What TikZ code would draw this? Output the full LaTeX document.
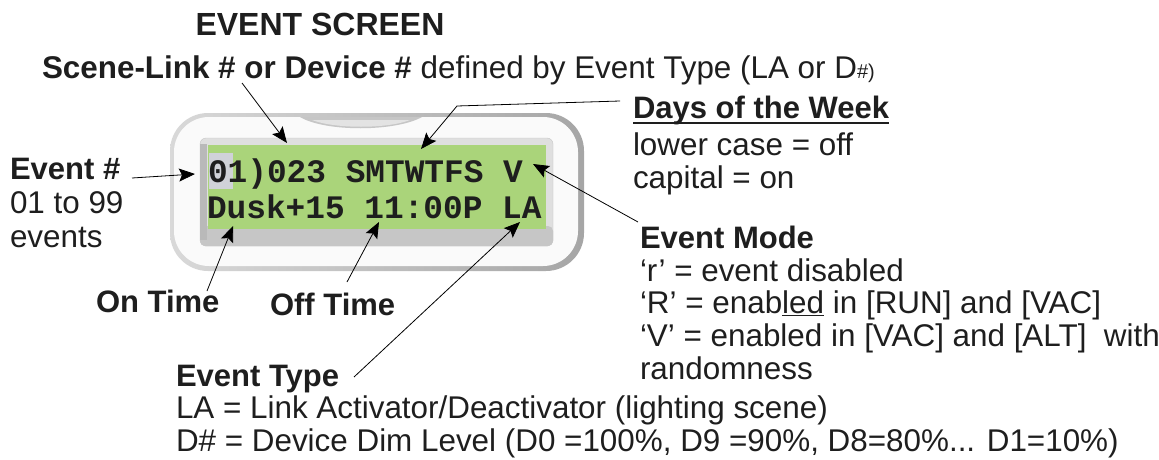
\documentclass[tikz,border=0pt]{standalone}
\usepackage{fontspec}
\setmainfont{Liberation Sans}
\newfontfamily\lcdfont{Liberation Mono}
\usetikzlibrary{arrows.meta}
\definecolor{lcdgreen}{RGB}{170,212,122}
\definecolor{hilite}{RGB}{208,210,216}
\definecolor{inkc}{RGB}{30,30,30}
\begin{document}
\begin{tikzpicture}[x=1pt,y=-1pt,
  every node/.style={inner sep=0pt,outer sep=0pt},
  txt/.style={anchor=base west,font=\fontsize{31.4}{33}\selectfont,text=inkc},
  btxt/.style={anchor=base west,font=\fontsize{31}{33}\selectfont\bfseries,text=inkc},
  lcd/.style={anchor=base west,font=\fontsize{32.8}{34}\selectfont\lcdfont\bfseries,text=inkc},
  arr/.style={line width=0.8pt,-{Stealth[length=16pt,width=13pt,inset=3pt]}}]
\useasboundingbox (0,0) rectangle (1159,460);
% device shell
\shade[left color=gray!30,right color=gray!70,rounded corners=38] (170,113) rectangle (584,271);
\fill[gray!4,rounded corners=35] (174,117) rectangle (578,266);
\fill[gray!45] (300,117) .. controls (325,132) and (395,132) .. (422,117) -- cycle;
\fill[gray!22] (312,120) .. controls (335,129) and (387,129) .. (410,120) -- cycle;
% bezel
\filldraw[fill=gray!25,draw=gray!45,rounded corners=6] (200,138) rectangle (553,246);
\fill[gray!45,rounded corners=5] (200,226) rectangle (553,246);
\fill[gray!55] (200,144) rectangle (207,240);
\fill[lcdgreen] (208,145) rectangle (546,229);
\fill[hilite] (209,153) rectangle (233,189);
\node[lcd] (l1) at (208,182) {01)023 SMTWTFS V};
\node[lcd] (l2) at (207,218) {Dusk+15 11:00P LA};
% texts
\node[anchor=base,font=\fontsize{32}{34}\selectfont\bfseries,text=inkc] (title) at (320,36) {EVENT SCREEN};
\node[txt] (scene) at (42,78) {\textbf{Scene-Link \# or Device \#} defined by Event Type (LA or D{\fontsize{20}{22}\selectfont\#)}};
\node[btxt] (days) at (633,118) {Days of the Week};
\draw[line width=1.6pt,inkc] ([yshift=-5pt]days.base west) -- ([yshift=-5pt]days.base east);
\node[txt] (lower) at (633,155) {lower case = off};
\node[txt] (capital) at (633,188) {capital = on};
\node[btxt] (evnum) at (10,179) {Event \#};
\node[txt] (range) at (10,213) {01 to 99};
\node[txt] (events) at (10,247) {events};
\node[btxt] (ontime) at (96,312) {On Time};
\node[btxt] (offtime) at (270,315) {Off Time};
\node[btxt] (evmode) at (640,248) {Event Mode};
\node[txt] (m1) at (640,281) {‘r’ = event disabled};
\node[txt] (m2) at (640,313) {‘R’ = enab\underline{led} in [RUN] and [VAC]};
\node[txt] (m3) at (640,346) {‘V’ = enabled in [VAC] and [ALT]\ \ with};
\node[txt] (m4) at (640,379) {randomness};
\node[btxt] (evtype) at (176,386) {Event Type};
\node[txt] (t1) at (176,418) {LA = Link Activator/Deactivator (lighting scene)};
\node[txt] (t2) at (176,451) {D\# = Device Dim Level (D0 =100\%, D9 =90\%, D8=80\%... D1=10\%)};
% arrow ends
\coordinate (sceneS) at (242,83);  \coordinate (sceneT) at (287,143);
\coordinate (dayS) at (620,101);   \coordinate (dayM) at (457,106); \coordinate (dayT) at (421,149);
\coordinate (numS) at (132,178);   \coordinate (numT) at (195,174);
\coordinate (modeS) at (638,222);  \coordinate (modeT) at (533,164);
\coordinate (onS) at (207,291);    \coordinate (onT) at (233,226);
\coordinate (offS) at (347,282);   \coordinate (offT) at (379,222);
\coordinate (typeS) at (354,377);  \coordinate (typeT) at (520,222);
\draw[arr] (sceneS) -- (sceneT);
\draw[arr] (dayS) -- (dayM) -- (dayT);
\draw[arr] (numS) -- (numT);
\draw[arr] (modeS) -- (modeT);
\draw[arr] (onS) -- (onT);
\draw[arr] (offS) -- (offT);
\draw[arr] (typeS) -- (typeT);
\end{tikzpicture}
\end{document}
